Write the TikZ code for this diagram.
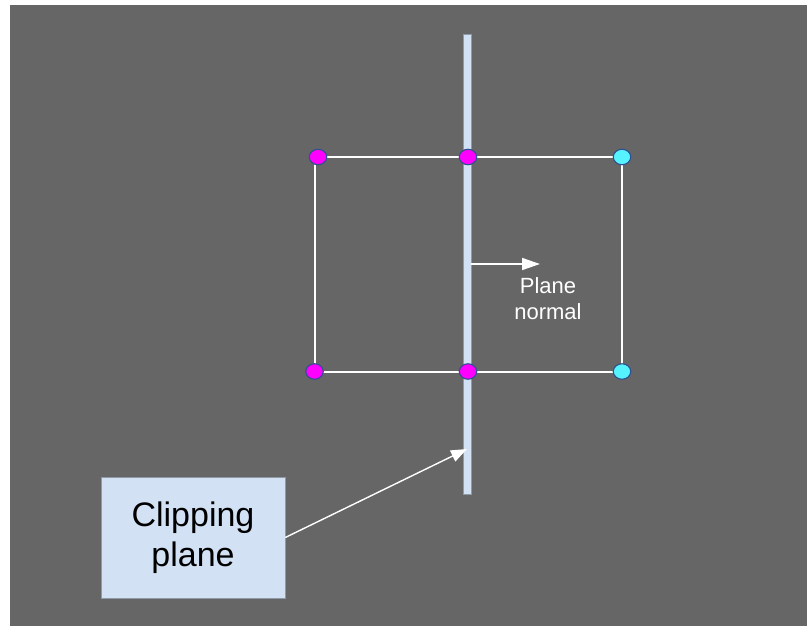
\documentclass[tikz,border=0pt]{standalone}
\usepackage{fontspec}
\setmainfont{Liberation Sans}
\usetikzlibrary{shapes.geometric,arrows.meta}
\definecolor{bggray}{HTML}{666666}
\definecolor{planeblue}{HTML}{D2E1F4}
\definecolor{planeedge}{HTML}{8E9AA8}
\definecolor{dotedge}{HTML}{2F4F8F}
\definecolor{dotmag}{HTML}{FF00FF}
\definecolor{dotcyan}{HTML}{55F3FF}
\tikzset{
  vertex/.style={ellipse, draw=dotedge, line width=1.1pt, inner sep=0pt,
                 minimum width=17.5pt, minimum height=15.5pt},
  inside/.style={vertex, fill=dotmag},
  outside/.style={vertex, fill=dotcyan},
  edge/.style={draw=white, line width=2pt},
  pointer/.style={draw=white, line width=1.4pt},
  planebar/.style={rectangle, fill=planeblue, draw=planeedge, line width=0.6pt,
                   minimum width=8pt, minimum height=460pt, inner sep=0pt},
  labelbox/.style={rectangle, fill=planeblue, draw=planeedge, line width=0.6pt,
                   minimum width=184pt, minimum height=121pt, inner sep=0pt,
                   align=center, text=black,
                   font=\fontsize{34}{40}\selectfont},
  normaltext/.style={align=center, text=white, inner sep=0pt,
                     font=\fontsize{22}{26}\selectfont}
}
\begin{document}
\begin{tikzpicture}[x=1pt,y=-1pt]
  % page and grey backdrop
  \fill[white] (0,0) rectangle (807,626);
  \fill[bggray] (10,5) rectangle (807,626);
  \useasboundingbox (0,0) rectangle (807,626);

  % vertices of the square
  \coordinate (tlp) at (318,157);
  \coordinate (blp) at (314.5,371.5);

  % square edges
  \draw[edge] (tlp) -- (622,157);
  \draw[edge] (blp) -- (622,371.5);
  \draw[edge] (blp) |- (tlp);
  \draw[edge] (621.5,157) -- (621.5,371.5);

  % clipping plane
  \node[planebar] (plane) at (467,264) {};

  % vertices
  \node[inside]  (tl) at (tlp) {};
  \node[inside]  (tm) at (468,157) {};
  \node[outside] (tr) at (622,157) {};
  \node[inside]  (bl) at (blp) {};
  \node[inside]  (bm) at (468,371.5) {};
  \node[outside] (br) at (622,371.5) {};

  % plane normal
  \coordinate (ntip) at (540,264);
  \draw[pointer, line width=1.6pt, -{Triangle[length=18pt,width=12pt]}] (plane.east) -- (ntip);
  \node[normaltext] (nlabel) at (548,299) {Plane\\normal};

  % label box and its pointer
  \node[labelbox] (clip) at (193,537.5) {Clipping\\plane};
  \coordinate (ptip) at (467,449);
  \draw[pointer, -{Triangle[length=16pt,width=12pt]}] (clip.east) -- (ptip);
\end{tikzpicture}
\end{document}
